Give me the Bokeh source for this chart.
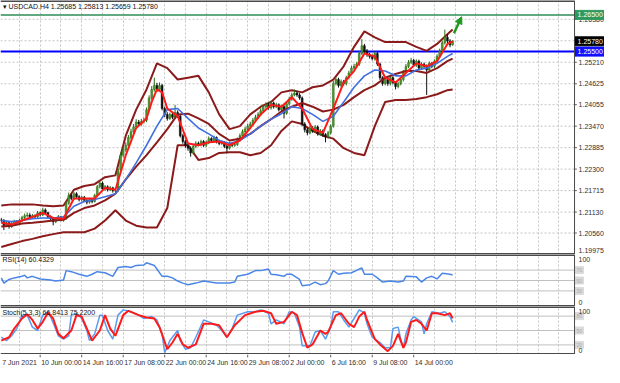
from bokeh.plotting import figure
from bokeh.layouts import column
from bokeh.models import (Range1d, FixedTicker, Grid, Label, Span, Arrow, NormalHead,
                          ColumnDataSource)
from bokeh.embed import file_html
from bokeh.resources import INLINE
from bokeh.core.properties import value

# ---------------- data (H4 bars, index 0 = 7 Jun 2021 12:00) ----------------
FIRST_OPEN = 1.2092
CLOSE = [
    1.2090, 1.2076, 1.2084, 1.2074, 1.2082, 1.2087, 1.2084, 1.2090, 1.2098, 1.2103,
    1.2105, 1.2098, 1.2103, 1.2100, 1.2111, 1.2105, 1.2119, 1.2111, 1.2100, 1.2095,
    1.2087, 1.2095, 1.2100, 1.2092, 1.2095, 1.2137, 1.2158, 1.2150, 1.2163, 1.2155,
    1.2147, 1.2153, 1.2145, 1.2140, 1.2147, 1.2142, 1.2158, 1.2182, 1.2192, 1.2176,
    1.2182, 1.2174, 1.2179, 1.2171, 1.2171, 1.2229, 1.2268, 1.2282, 1.2295, 1.2316,
    1.2332, 1.2345, 1.2358, 1.2353, 1.2360, 1.2363, 1.2392, 1.2424, 1.2447, 1.2458,
    1.2447, 1.2458, 1.2395, 1.2379, 1.2368, 1.2379, 1.2371, 1.2384, 1.2374, 1.2321,
    1.2305, 1.2295, 1.2287, 1.2274, 1.2292, 1.2300, 1.2297, 1.2305, 1.2295, 1.2303,
    1.2313, 1.2308, 1.2316, 1.2305, 1.2300, 1.2303, 1.2292, 1.2287, 1.2300, 1.2295,
    1.2297, 1.2311, 1.2321, 1.2332, 1.2339, 1.2347, 1.2353, 1.2363, 1.2371, 1.2379,
    1.2389, 1.2400, 1.2405, 1.2397, 1.2410, 1.2400, 1.2405, 1.2392, 1.2400, 1.2382,
    1.2408, 1.2421, 1.2432, 1.2437, 1.2432, 1.2424, 1.2353, 1.2337, 1.2329, 1.2342,
    1.2334, 1.2345, 1.2326, 1.2334, 1.2324, 1.2318, 1.2329, 1.2347, 1.2463, 1.2474,
    1.2458, 1.2468, 1.2463, 1.2479, 1.2492, 1.2505, 1.2510, 1.2516, 1.2545, 1.2566,
    1.2552, 1.2542, 1.2537, 1.2531, 1.2545, 1.2516, 1.2479, 1.2463, 1.2474, 1.2463,
    1.2479, 1.2466, 1.2455, 1.2463, 1.2474, 1.2495, 1.2510, 1.2521, 1.2526, 1.2513,
    1.2524, 1.2505, 1.2516, 1.2510, 1.2500, 1.2518, 1.2510, 1.2524, 1.2537, 1.2552,
    1.2574, 1.2589, 1.2579, 1.25685, 1.25780,
]
HIGH = [
    1.2097, 1.2094, 1.2089, 1.2088, 1.2087, 1.2092, 1.2091, 1.2095, 1.2103, 1.2109,
    1.2112, 1.2110, 1.2108, 1.2107, 1.2116, 1.2115, 1.2125, 1.2123, 1.2114, 1.2104,
    1.2098, 1.2099, 1.2105, 1.2103, 1.2100, 1.2142, 1.2166, 1.2163, 1.2168, 1.2167,
    1.2159, 1.2158, 1.2157, 1.2149, 1.2152, 1.2151, 1.2163, 1.2187, 1.2200, 1.2196,
    1.2187, 1.2186, 1.2184, 1.2182, 1.2177, 1.2234, 1.2275, 1.2290, 1.2303, 1.2323,
    1.2340, 1.2353, 1.2366, 1.2364, 1.2367, 1.2370, 1.2398, 1.2431, 1.2456, 1.2479,
    1.2465, 1.2466, 1.2462, 1.2400, 1.2385, 1.2384, 1.2383, 1.2405, 1.2390, 1.2378,
    1.2326, 1.2310, 1.2300, 1.2292, 1.2297, 1.2306, 1.2305, 1.2310, 1.2309, 1.2308,
    1.2319, 1.2317, 1.2321, 1.2319, 1.2310, 1.2308, 1.2306, 1.2296, 1.2305, 1.2304,
    1.2302, 1.2316, 1.2327, 1.2338, 1.2345, 1.2354, 1.2359, 1.2369, 1.2378, 1.2385,
    1.2396, 1.2406, 1.2412, 1.2410, 1.2416, 1.2414, 1.2411, 1.2409, 1.2405, 1.2404,
    1.2413, 1.2427, 1.2438, 1.2447, 1.2442, 1.2437, 1.2428, 1.2358, 1.2342, 1.2348,
    1.2347, 1.2350, 1.2349, 1.2339, 1.2338, 1.2328, 1.2334, 1.2352, 1.2470, 1.2482,
    1.2479, 1.2474, 1.2473, 1.2484, 1.2498, 1.2511, 1.2517, 1.2522, 1.2552, 1.2584,
    1.2571, 1.2557, 1.2547, 1.2542, 1.2550, 1.2549, 1.2520, 1.2483, 1.2479, 1.2478,
    1.2484, 1.2483, 1.2470, 1.2468, 1.2479, 1.2500, 1.2516, 1.2527, 1.2533, 1.2530,
    1.2529, 1.2528, 1.2521, 1.2520, 1.2515, 1.2523, 1.2522, 1.2529, 1.2543, 1.2558,
    1.2580, 1.2610, 1.2597, 1.2584, 1.25813,
]
LOW = [
    1.2084, 1.2064, 1.2072, 1.2068, 1.2070, 1.2078, 1.2080, 1.2080, 1.2086, 1.2094,
    1.2099, 1.2093, 1.2094, 1.2095, 1.2096, 1.2101, 1.2102, 1.2107, 1.2095, 1.2089,
    1.2077, 1.2083, 1.2091, 1.2088, 1.2087, 1.2092, 1.2133, 1.2145, 1.2146, 1.2150,
    1.2142, 1.2142, 1.2140, 1.2134, 1.2136, 1.2137, 1.2139, 1.2155, 1.2177, 1.2171,
    1.2171, 1.2169, 1.2170, 1.2166, 1.2166, 1.2168, 1.2225, 1.2262, 1.2277, 1.2290,
    1.2310, 1.2327, 1.2340, 1.2347, 1.2348, 1.2354, 1.2358, 1.2388, 1.2418, 1.2441,
    1.2440, 1.2442, 1.2390, 1.2372, 1.2362, 1.2364, 1.2366, 1.2368, 1.2369, 1.2316,
    1.2299, 1.2288, 1.2280, 1.2264, 1.2270, 1.2287, 1.2292, 1.2292, 1.2290, 1.2290,
    1.2298, 1.2303, 1.2303, 1.2300, 1.2295, 1.2296, 1.2287, 1.2274, 1.2283, 1.2290,
    1.2291, 1.2293, 1.2306, 1.2316, 1.2327, 1.2334, 1.2342, 1.2348, 1.2358, 1.2366,
    1.2374, 1.2384, 1.2395, 1.2392, 1.2392, 1.2395, 1.2396, 1.2387, 1.2388, 1.2368,
    1.2378, 1.2403, 1.2416, 1.2428, 1.2427, 1.2419, 1.2347, 1.2330, 1.2322, 1.2325,
    1.2329, 1.2330, 1.2321, 1.2321, 1.2318, 1.2303, 1.2313, 1.2324, 1.2343, 1.2458,
    1.2452, 1.2453, 1.2457, 1.2458, 1.2474, 1.2487, 1.2500, 1.2505, 1.2511, 1.2540,
    1.2546, 1.2536, 1.2531, 1.2526, 1.2526, 1.2511, 1.2473, 1.2457, 1.2458, 1.2457,
    1.2458, 1.2461, 1.2447, 1.2450, 1.2458, 1.2469, 1.2490, 1.2505, 1.2516, 1.2508,
    1.2508, 1.2500, 1.2500, 1.2505, 1.2432, 1.2495, 1.2505, 1.2505, 1.2519, 1.2532,
    1.2547, 1.2569, 1.2572, 1.2562, 1.25659,
]

MA_IDX = [0, 4, 8, 12, 16, 20, 24, 28, 32, 36, 40, 44, 48, 52, 56, 60, 64, 68, 72, 76,
          80, 84, 88, 92, 96, 100, 104, 108, 112, 116, 120, 124, 128, 132, 136, 140,
          144, 148, 152, 156, 160, 164, 168, 172, 174]
BB_UPPER = [1.2131, 1.2134, 1.2134, 1.2134, 1.2131, 1.2129, 1.2131, 1.2174, 1.2184, 1.2189,
            1.2208, 1.2213, 1.2321, 1.2392, 1.2447, 1.2518, 1.2505, 1.2474, 1.2479, 1.2484,
            1.2439, 1.2379, 1.2339, 1.2347, 1.2379, 1.2400, 1.2413, 1.2439, 1.2445, 1.2439,
            1.2453, 1.2458, 1.2474, 1.2510, 1.2563, 1.2605, 1.2589, 1.2576, 1.2576, 1.2576,
            1.2563, 1.2552, 1.2571, 1.2597, 1.2610]
BB_MID = [1.2074, 1.2076, 1.2082, 1.2084, 1.2087, 1.2090, 1.2092, 1.2111, 1.2124, 1.2131,
          1.2145, 1.2163, 1.2202, 1.2237, 1.2268, 1.2303, 1.2339, 1.2379, 1.2381, 1.2368,
          1.2353, 1.2326, 1.2308, 1.2313, 1.2326, 1.2347, 1.2366, 1.2387, 1.2400, 1.2410,
          1.2400, 1.2387, 1.2392, 1.2405, 1.2426, 1.2445, 1.2458, 1.2479, 1.2489, 1.2497,
          1.2497, 1.2492, 1.2505, 1.2524, 1.2531]
BB_LOWER = [1.2018, 1.2026, 1.2034, 1.2040, 1.2047, 1.2053, 1.2058, 1.2058, 1.2058, 1.2068,
            1.2090, 1.2118, 1.2090, 1.2076, 1.2071, 1.2071, 1.2124, 1.2295, 1.2295, 1.2255,
            1.2260, 1.2274, 1.2276, 1.2276, 1.2268, 1.2274, 1.2295, 1.2334, 1.2360, 1.2353,
            1.2334, 1.2321, 1.2313, 1.2287, 1.2274, 1.2268, 1.2347, 1.2413, 1.2418, 1.2418,
            1.2421, 1.2426, 1.2434, 1.2445, 1.2447]
MA_BLUE = [1.2090, 1.2087, 1.2090, 1.2095, 1.2097, 1.2097, 1.2100, 1.2129, 1.2142, 1.2147,
           1.2155, 1.2163, 1.2202, 1.2247, 1.2295, 1.2347, 1.2392, 1.2395, 1.2368, 1.2342,
           1.2326, 1.2308, 1.2300, 1.2308, 1.2326, 1.2347, 1.2366, 1.2381, 1.2400, 1.2395,
           1.2379, 1.2360, 1.2374, 1.2413, 1.2453, 1.2484, 1.2500, 1.2497, 1.2484, 1.2484,
           1.2500, 1.2505, 1.2518, 1.2537, 1.2545]
RED_IDX = [0, 4, 8, 12, 16, 20, 24, 28, 32, 36, 40, 44, 48, 52, 56, 58, 60, 62, 64, 68,
           72, 76, 80, 84, 88, 92, 96, 100, 104, 108, 112, 116, 120, 124, 128, 132, 136,
           140, 144, 148, 152, 156, 160, 164, 168, 172, 174]
MA_RED = [1.2084, 1.2079, 1.2090, 1.2100, 1.2111, 1.2097, 1.2095, 1.2150, 1.2150, 1.2150,
          1.2179, 1.2174, 1.2268, 1.2342, 1.2368, 1.2413, 1.2447, 1.2439, 1.2395, 1.2374,
          1.2300, 1.2295, 1.2303, 1.2305, 1.2295, 1.2308, 1.2342, 1.2379, 1.2405, 1.2400,
          1.2426, 1.2395, 1.2339, 1.2329, 1.2395, 1.2466, 1.2497, 1.2545, 1.2537, 1.2479,
          1.2466, 1.2492, 1.2518, 1.2510, 1.2524, 1.2571, 1.2578]

RSI_IDX = [0, 1, 3, 5, 8, 9, 10, 12, 15, 19, 21, 24, 25, 27, 30, 33, 35, 37, 40, 43,
           45, 48, 50, 52, 55, 56, 59, 60, 62, 64, 66, 68, 70, 72, 75, 78, 83, 88, 90, 91,
           95, 98, 100, 103, 104, 106, 109, 110, 112, 115, 116, 119, 121, 123, 125, 126,
           128, 130, 132, 135, 138, 139, 140, 143, 145, 147, 150, 153, 155, 156, 160,
           162, 164, 166, 168, 170, 173, 174]
RSI_VAL = [55, 45, 52, 55, 58, 60, 55, 58, 53, 51, 49, 51, 69, 67, 62, 58, 62, 67, 65, 58,
           75, 77, 75, 79, 80, 84, 79, 72, 58, 58, 55, 49, 45, 42, 45, 49, 45, 45, 47, 58,
           62, 69, 69, 72, 62, 61, 58, 62, 62, 52, 40, 42, 47, 42, 44, 49, 69, 62, 64, 65,
           72, 74, 62, 62, 55, 47, 49, 47, 49, 58, 57, 47, 55, 58, 53, 64, 62, 60.43]

STK_IDX = [0, 2, 4, 6, 8, 10, 12, 14, 16, 18, 19, 22, 24, 26, 27, 29, 31, 33, 34, 36,
           38, 39, 41, 43, 45, 47, 50, 53, 55, 58, 60, 62, 63, 65, 68, 69, 71, 73, 75, 78,
           80, 83, 85, 87, 89, 91, 95, 98, 100, 103, 104, 106, 109, 111, 113, 115, 116,
           119, 121, 123, 125, 127, 128, 130, 132, 134, 136, 138, 140, 141, 143, 146, 148,
           150, 151, 153, 154, 155, 156, 158, 159, 162, 163, 164, 166, 169, 171, 173, 174]
STK_MAIN = [36, 29, 39, 54, 82, 82, 57, 50, 82, 89, 79, 39, 32, 39, 82, 86, 75, 50, 29, 43,
            82, 82, 50, 32, 82, 93, 89, 82, 75, 79, 72, 43, 4, 29, 50, 29, 11, 14, 36, 72,
            68, 61, 50, 36, 54, 82, 89, 89, 93, 86, 64, 72, 64, 89, 86, 57, 18, 18, 47, 50,
            32, 57, 89, 89, 72, 57, 75, 93, 86, 64, 36, 25, 14, 14, 54, 57, 32, 14, 43, 72,
            79, 68, 43, 64, 89, 86, 89, 79, 66.84]
SIG_IDX = [0, 3, 5, 8, 10, 12, 14, 16, 18, 20, 22, 24, 27, 29, 31, 33, 35, 38, 40, 42,
           44, 47, 49, 53, 56, 59, 61, 64, 66, 68, 70, 72, 75, 78, 81, 84, 87, 90, 94, 98,
           101, 104, 106, 109, 112, 114, 116, 118, 120, 123, 125, 126, 129, 131, 134, 136,
           138, 140, 141, 144, 146, 149, 151, 153, 155, 156, 158, 160, 162, 164, 166, 168,
           171, 173, 174]
STK_SIGNAL = [29, 36, 54, 75, 84, 72, 54, 68, 87, 75, 43, 34, 50, 82, 79, 54, 29, 50, 82, 54,
              39, 82, 91, 82, 77, 75, 57, 11, 25, 43, 21, 14, 21, 64, 64, 61, 36, 61, 82, 89,
              91, 86, 64, 68, 89, 82, 45, 14, 21, 50, 43, 47, 82, 86, 64, 57, 79, 89, 72, 32,
              21, 7, 18, 43, 14, 25, 68, 72, 64, 50, 86, 86, 82, 86, 75.22]

PRICE_TICKS = [1.19975, 1.20560, 1.21130, 1.21715, 1.22300, 1.22885, 1.23470, 1.24055,
               1.24625, 1.25210, 1.25795, 1.26380]
RESIST = 1.26500
SUPPORT = 1.25500
LAST = 1.25780
RSI_LEVELS = [70, 50, 30]
STK_LEVELS = [80, 50, 20]
TICK_IDX = [0, 15, 31, 47, 63, 79, 95, 111, 127, 143, 159]
DATE_LABELS = ["7 Jun 2021", "10 Jun 00:00", "14 Jun 16:00", "17 Jun 08:00", "22 Jun 00:00",
               "24 Jun 16:00", "29 Jun 08:00", "2 Jul 00:00", "6 Jul 16:00", "9 Jul 08:00",
               "14 Jul 00:00"]
TITLE = "\u25BE USDCAD.H4  1.25685 1.25813 1.25659 1.25780"

# ---------------- styling / layout ----------------
W = 604
FONT = "Liberation Sans"
GRID_C = "#c4c4c4"
FRAME_C = "#4a4a4a"
MAROON = "#8b1a1a"
X0 = -0.3          # left edge of the chart window (bar units)
AXIS_X = 221.0     # right edge of the chart window, where the price scale starts
X_END = 232.55     # right edge of the price-scale strip
VGRID = list(range(7, 220, 8))
XR = Range1d(X0, X_END)


def panel(h, yr):
    f = figure(width=W, height=h, x_range=XR, y_range=yr, output_backend="svg",
               toolbar_location=None, x_axis_location=None, y_axis_location=None,
               min_border_left=0, min_border_right=0, min_border_top=0, min_border_bottom=0)
    f.grid.visible = False
    f.outline_line_color = None
    f.background_fill_color = "white"
    f.border_fill_color = "white"
    f.add_layout(Grid(dimension=0, ticker=FixedTicker(ticks=VGRID),
                      grid_line_color=GRID_C, grid_line_dash="2 2"))
    # separators (window border) at top and bottom, and the price-scale line
    f.segment(x0=[X0, X0], y0=[yr.start, yr.end], x1=[AXIS_X, AXIS_X], y1=[yr.start, yr.end],
              line_color=FRAME_C, line_width=3)
    f.add_layout(Span(location=AXIS_X, dimension="height", line_color=FRAME_C, line_width=1))
    return f


def side_text(f, ys, texts, color="#303030", size="7px", baseline="middle", dx=4, dy=0):
    f.text(x=[AXIS_X] * len(ys), y=ys, text=texts, text_font=value(FONT),
           text_font_size=size, text_color=color, text_align="left",
           text_baseline=baseline, x_offset=dx, y_offset=dy)


def side_box(f, y, text, bg, fg="white", w=X_END - AXIS_X, h=9, size="7px", dx=3):
    f.rect(x=[AXIS_X + w / 2 + 0.15], y=[y], width=w, height=h, height_units="screen",
           fill_color=bg, line_color=bg)
    side_text(f, [y], [text], color=fg, size=size, dx=dx)


# ---------------- main price panel ----------------
p = panel(254, Range1d(1.19975, 1.26892))
p.segment(x0=[X0] * len(PRICE_TICKS), y0=PRICE_TICKS, x1=[AXIS_X] * len(PRICE_TICKS),
          y1=PRICE_TICKS, line_color=GRID_C, line_dash="2 2", line_width=1)
p.segment(x0=[AXIS_X] * len(PRICE_TICKS), y0=PRICE_TICKS, x1=[AXIS_X + 0.9] * len(PRICE_TICKS),
          y1=PRICE_TICKS, line_color="#606060", line_width=1)
side_text(p, PRICE_TICKS, ["%.5f" % t for t in PRICE_TICKS],
          dy=[-4] + [0] * (len(PRICE_TICKS) - 1))

OPEN = [FIRST_OPEN] + CLOSE[:-1]
IDX = list(range(len(CLOSE)))
is_up = [c >= o for o, c in zip(OPEN, CLOSE)]
src = ColumnDataSource(dict(
    x=IDX,
    top=[max(o, c) for o, c in zip(OPEN, CLOSE)],
    bot=[min(o, c) for o, c in zip(OPEN, CLOSE)],
    high=HIGH, low=LOW,
    fill=["#4f9a2c" if u else "#111111" for u in is_up],
    edge=["#2c6a18" if u else "#111111" for u in is_up],
))
p.segment(x0=[X0], y0=[RESIST], x1=[AXIS_X], y1=[RESIST], line_color="#2e8b57", line_width=1.5)
p.segment(x0=[X0], y0=[SUPPORT], x1=[AXIS_X], y1=[SUPPORT], line_color="#0000ff", line_width=2)

p.line(MA_IDX, BB_UPPER, line_color=MAROON, line_width=2)
p.line(MA_IDX, BB_LOWER, line_color=MAROON, line_width=2)
p.segment(x0="x", y0="low", x1="x", y1="high", source=src, line_color="edge", line_width=1)
p.vbar(x="x", width=0.7, top="top", bottom="bot", source=src,
       fill_color="fill", line_color="edge", line_width=0.5)
p.line(MA_IDX, BB_MID, line_color=MAROON, line_width=2)
p.line(MA_IDX, MA_BLUE, line_color="#3f6fe0", line_width=1.6)
p.line(RED_IDX, MA_RED, line_color="#ff1a1a", line_width=2)

p.add_layout(Arrow(end=NormalHead(size=7, fill_color="#1e9a1e", line_color="#1e9a1e"),
                   x_start=174.5, y_start=1.2600, x_end=177.5, y_end=1.2645,
                   line_color="#1e9a1e", line_width=2.5))
p.add_layout(Label(x=2, x_units="screen", y=1.2672, text=TITLE, text_font=FONT,
                   text_font_size="7px", text_color="#111111", text_baseline="middle"))

side_box(p, RESIST, "%.5f" % RESIST, "#2e9a5e")
side_box(p, LAST, "%.5f" % LAST, "#000000")
side_box(p, SUPPORT, "%.5f" % SUPPORT, "#1010ff")

# ---------------- RSI panel ----------------
r = panel(52, Range1d(0, 100))
r.segment(x0=[X0] * 3, y0=RSI_LEVELS, x1=[AXIS_X] * 3, y1=RSI_LEVELS,
          line_color="#c0c0c0", line_width=1)
r.line(RSI_IDX, RSI_VAL, line_color="#4a86e8", line_width=1.5)
r.add_layout(Label(x=2, x_units="screen", y=91, text="RSI(14) 60.4329", text_font=FONT,
                   text_font_size="7px", text_color="#111111", text_baseline="middle"))
for lv in RSI_LEVELS:
    side_box(r, lv, str(lv), "#dadada", fg="#aaaaaa", w=3.3, h=7, size="5px", dx=2)
side_text(r, [100], ["100"], baseline="top", dy=2)
side_text(r, [0], ["0"], baseline="bottom", dy=-2)

# ---------------- Stochastic panel ----------------
s = panel(48, Range1d(0, 100))
s.segment(x0=[X0] * 3, y0=STK_LEVELS, x1=[AXIS_X] * 3, y1=STK_LEVELS,
          line_color="#c0c0c0", line_width=1)
s.line(STK_IDX, STK_MAIN, line_color="#5b9bf0", line_width=1.5)
s.line(SIG_IDX, STK_SIGNAL, line_color="#ff1a1a", line_width=2)
s.add_layout(Label(x=2, x_units="screen", y=88, text="Stoch(5,3,3) 66.8413 75.2200",
                   text_font=FONT, text_font_size="7px", text_color="#111111",
                   text_baseline="middle"))
for lv in STK_LEVELS:
    side_box(s, lv, str(lv), "#dadada", fg="#aaaaaa", w=3.3, h=7, size="5px", dx=2)
side_text(s, [100], ["100"], baseline="top", dy=2)
side_text(s, [0], ["0"], baseline="bottom", dy=-2)

# ---------------- time labels strip ----------------
d = figure(width=W, height=13, x_range=XR, y_range=Range1d(0, 1), output_backend="svg",
           toolbar_location=None, x_axis_location=None, y_axis_location=None,
           min_border_left=0, min_border_right=0, min_border_top=0, min_border_bottom=0)
d.grid.visible = False
d.outline_line_color = None
d.background_fill_color = "white"
d.border_fill_color = "white"
d.segment(x0=TICK_IDX[1:], y0=[1.0] * (len(TICK_IDX) - 1), x1=TICK_IDX[1:],
          y1=[0.78] * (len(TICK_IDX) - 1), line_color="#606060", line_width=1)
d.text(x=TICK_IDX, y=[0.42] * len(TICK_IDX), text=DATE_LABELS, text_font=value(FONT),
       text_font_size="7px", text_color="#303030", text_align="left",
       text_baseline="middle", x_offset=1)

layout = column(p, r, s, d, spacing=0)
open("out.html", "w").write(file_html(layout, INLINE))
